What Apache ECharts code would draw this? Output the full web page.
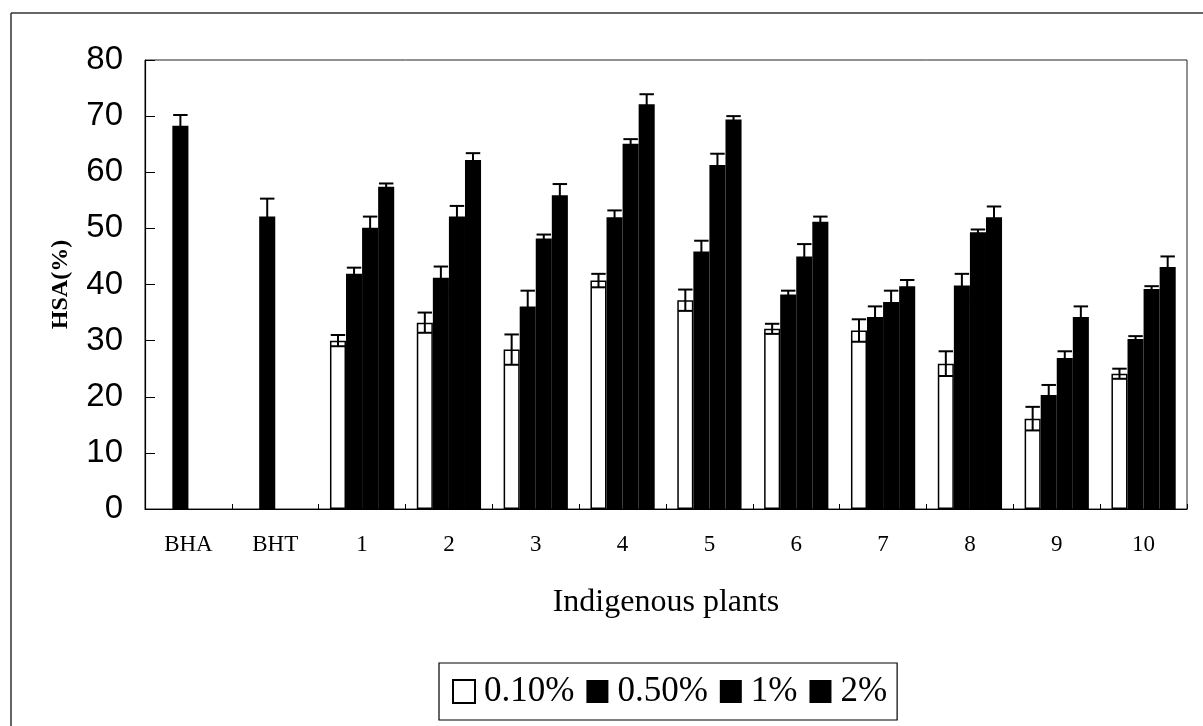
<!DOCTYPE html>
<html>
<head>
<meta charset="utf-8">
<script src="https://cdn.jsdelivr.net/npm/echarts@6/dist/echarts.min.js"></script>
<style>html,body{margin:0;padding:0;background:#fff}#c{width:1203px;height:726px}</style>
</head>
<body>
<div id="c"></div>
<script>
const categories = ['BHA','BHT','1','2','3','4','5','6','7','8','9','10'];
const seriesNames = ['0.10%','0.50%','1%','2%'];
const v010 = [null,null,30.0,33.2,28.4,40.7,37.2,32.1,31.8,25.9,16.1,24.1];
const e010 = [null,null,1.0,1.8,2.7,1.2,1.9,0.9,2.0,2.2,2.1,0.9];
const v050 = [68.3,52.1,41.9,41.2,36.1,52.0,45.9,38.2,34.2,39.8,20.3,30.3];
const e050 = [1.9,3.2,1.1,2.0,2.8,1.2,1.9,0.7,1.9,2.1,1.8,0.5];
const v1   = [null,null,50.1,52.1,48.2,65.1,61.3,45.0,36.9,49.3,26.9,39.2];
const e1   = [null,null,2.0,1.9,0.7,0.8,2.0,2.2,2.0,0.5,1.2,0.5];
const v2   = [null,null,57.4,62.2,55.9,72.1,69.4,51.2,39.7,52.0,34.2,43.1];
const e2   = [null,null,0.6,1.2,2.0,1.8,0.6,0.9,1.1,1.9,1.9,1.9];
const yTicks = [0,10,20,30,40,50,60,70,80];

const values = [v010, v050, v1, v2];
const errors = [e010, e050, e1, e2];
const catGap = 0.26;

const chart = echarts.init(document.getElementById('c'));

const barSeries = values.map((vals, k) => ({
  name: seriesNames[k],
  type: 'bar',
  data: vals,
  barGap: '0%',
  barCategoryGap: (catGap*100) + '%',
  itemStyle: k === 0
    ? {color: '#fff', borderColor: '#000', borderWidth: 1.5}
    : {color: '#000', borderColor: '#000', borderWidth: 0},
  z: 2
}));

const errSeries = values.map((vals, k) => ({
  type: 'custom',
  name: 'err' + k,
  z: 5,
  silent: true,
  data: vals.map((v, i) => v == null ? null : [i, v, errors[k][i]]).filter(d => d),
  renderItem: function (params, api) {
    const x = api.value(0), v = api.value(1), e = api.value(2);
    const hi = api.coord([x, v + e]);
    const lo = api.coord([x, v - e]);
    const band = api.size([1, 0])[0];
    const bw = band * (1 - catGap) / 4;
    const cx = hi[0] + (k - 1.5) * bw;
    const cap = bw * 0.45;
    const st = {stroke: '#000', lineWidth: 2};
    return {
      type: 'group',
      children: [
        {type: 'line', shape: {x1: cx, y1: hi[1], x2: cx, y2: lo[1]}, style: st},
        {type: 'line', shape: {x1: cx - cap, y1: hi[1], x2: cx + cap, y2: hi[1]}, style: st},
        {type: 'line', shape: {x1: cx - cap, y1: lo[1], x2: cx + cap, y2: lo[1]}, style: st}
      ]
    };
  }
}));

chart.setOption({
  animation: false,
  backgroundColor: '#fff',
  grid: {left: 145, right: 16, top: 60, bottom: 217, show: true, borderColor: '#222', borderWidth: 1, backgroundColor: '#fff'},
  legend: {
    data: seriesNames,
    top: 663,
    left: 439,
    orient: 'horizontal',
    borderColor: '#000',
    borderWidth: 1.2,
    padding: [11, 10, 11, 13],
    itemWidth: 22,
    itemHeight: 23,
    itemGap: 12,
    icon: 'rect',
    selectedMode: false,
    textStyle: {fontFamily: 'Liberation Serif', fontSize: 35, color: '#000', padding: [0, 0, 0, 4]}
  },
  xAxis: {
    type: 'category',
    data: categories,
    name: 'Indigenous plants',
    nameLocation: 'middle',
    nameGap: 78,
    nameTextStyle: {fontFamily: 'Liberation Serif', fontSize: 32, color: '#000'},
    axisLine: {lineStyle: {color: '#000', width: 1.2}},
    axisTick: {show: true, inside: true, length: 5, lineStyle: {color: '#000'}},
    axisLabel: {fontFamily: 'Liberation Serif', fontSize: 23, color: '#000', margin: 24}
  },
  yAxis: {
    type: 'value',
    min: yTicks[0],
    max: yTicks[yTicks.length - 1],
    interval: 10,
    name: 'HSA(%)',
    nameLocation: 'middle',
    nameGap: 72,
    nameTextStyle: {fontFamily: 'Liberation Serif', fontSize: 24, fontWeight: 'bold', color: '#000'},
    axisLine: {show: true, lineStyle: {color: '#000', width: 1.2}},
    axisTick: {show: true, inside: true, length: 10, lineStyle: {color: '#000'}},
    splitLine: {show: false},
    axisLabel: {fontFamily: 'Liberation Sans', fontSize: 33, color: '#000', margin: 22}
  },
  graphic: [
    {type: 'line', shape: {x1: 11, y1: 13, x2: 1203, y2: 13}, style: {stroke: '#333', lineWidth: 1.5}, silent: true},
    {type: 'line', shape: {x1: 11, y1: 13, x2: 11, y2: 726}, style: {stroke: '#333', lineWidth: 1.5}, silent: true}
  ],
  series: barSeries.concat(errSeries)
});
</script>
</body>
</html>
